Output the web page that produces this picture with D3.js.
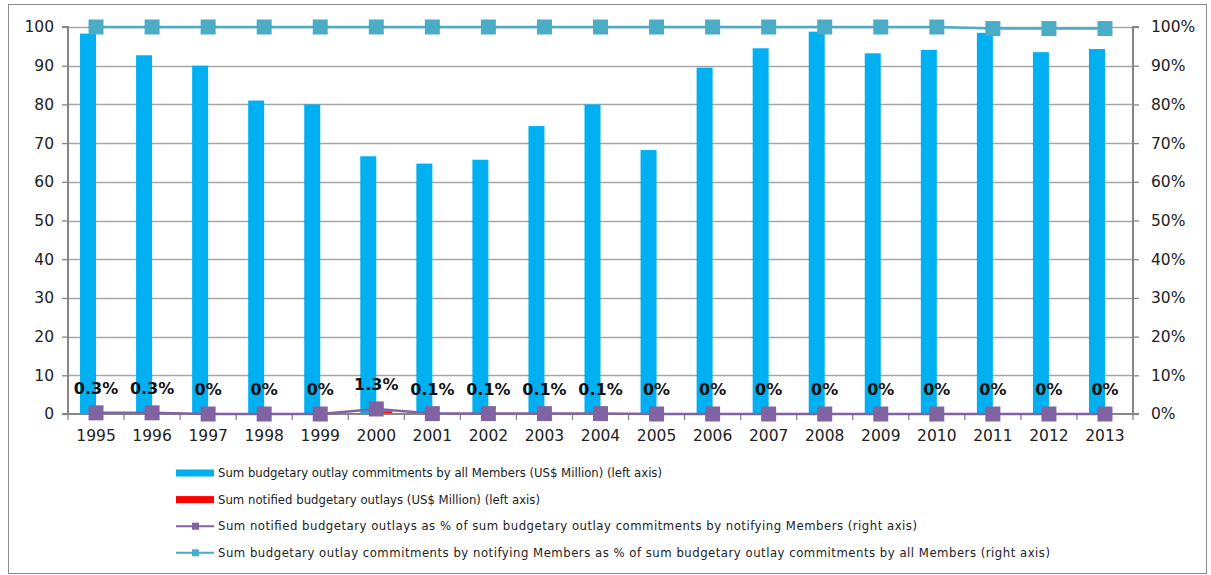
<!DOCTYPE html>
<html>
<head>
<meta charset="utf-8">
<script src="https://cdn.jsdelivr.net/npm/d3@7"></script>
<style>
  body { margin: 0; background: #fff; }
  svg { display: block; }
</style>
</head>
<body>
<svg id="chart" width="1211" height="575"></svg>
<script>
// Years on the x axis
var years = ['1995','1996','1997','1998','1999','2000','2001','2002','2003','2004',
             '2005','2006','2007','2008','2009','2010','2011','2012','2013'];

// Left axis, US$ million
var allCommitments = [98.3, 92.7, 90.0, 81.0, 80.0, 66.6, 64.7, 65.7, 74.4, 80.0,
                      68.2, 89.5, 94.5, 98.8, 93.2, 94.1, 98.5, 93.5, 94.3];
var notifiedOutlays = [0.3, 0.28, 0, 0, 0, 0.7, 0.06, 0.07, 0.07, 0.08,
                       0, 0, 0, 0, 0, 0, 0, 0, 0];

// Right axis, percent
var notifiedPct = [0.3, 0.3, 0, 0, 0, 1.3, 0.1, 0.1, 0.1, 0.1,
                   0, 0, 0, 0, 0, 0, 0, 0, 0];
var notifyingPct = [100, 100, 100, 100, 100, 100, 100, 100, 100, 100,
                    100, 100, 100, 100, 100, 100, 99.6, 99.6, 99.6];
var pctLabels = ['0.3%','0.3%','0%','0%','0%','1.3%','0.1%','0.1%','0.1%','0.1%',
                 '0%','0%','0%','0%','0%','0%','0%','0%','0%'];

var legendLabels = [
  'Sum budgetary outlay commitments by all Members (US$ Million) (left axis)',
  'Sum notified budgetary outlays (US$ Million) (left axis)',
  'Sum notified budgetary outlays as % of sum budgetary outlay commitments by notifying Members (right axis)',
  'Sum budgetary outlay commitments by notifying Members as % of sum budgetary outlay commitments by all Members (right axis)'
];

var blue = '#00b0f0', red = '#ff0000', purple = '#8064a2', teal = '#4bacc6';
var gridColor = '#a6a6a6', axisColor = '#868686';

var svg = d3.select('#chart');
var plotLeft = 68, plotRight = 1133, plotTop = 27, plotBottom = 414;

// Outer frame
svg.append('rect')
  .attr('x', 8.5).attr('y', 4.5)
  .attr('width', 1198).attr('height', 569)
  .attr('fill', 'none').attr('stroke', '#8c8c8c');

var x = d3.scaleBand().domain(years).range([plotLeft, plotRight]);
var yL = d3.scaleLinear().domain([0, 100]).range([plotBottom, plotTop]);
var yR = d3.scaleLinear().domain([0, 100]).range([plotBottom, plotTop]);
var barW = 16;

// Gridlines
svg.append('g')
  .selectAll('line')
  .data(yL.ticks(10).filter(function(d){ return d > 0; }))
  .join('line')
    .attr('x1', plotLeft).attr('x2', plotRight)
    .attr('y1', function(d){ return Math.round(yL(d)) + 0.5; })
    .attr('y2', function(d){ return Math.round(yL(d)) + 0.5; })
    .attr('stroke', gridColor).attr('stroke-width', 1.3);

// Bars
svg.append('g')
  .selectAll('rect')
  .data(allCommitments)
  .join('rect')
    .attr('x', function(d, i){ return x(years[i]) + x.bandwidth() / 2 - barW; })
    .attr('y', function(d){ return yL(d); })
    .attr('width', barW)
    .attr('height', function(d){ return plotBottom - yL(d); })
    .attr('fill', blue);

svg.append('g')
  .selectAll('rect')
  .data(notifiedOutlays)
  .join('rect')
    .attr('x', function(d, i){ return x(years[i]) + x.bandwidth() / 2; })
    .attr('y', function(d){ return yL(d); })
    .attr('width', barW)
    .attr('height', function(d){ return plotBottom - yL(d); })
    .attr('fill', red);

// Axes
var leftAxis = d3.axisLeft(yL).ticks(10).tickSize(6).tickPadding(8);
var gl = svg.append('g').attr('transform', 'translate(' + plotLeft + ',0)').call(leftAxis);

var rightAxis = d3.axisRight(yR).ticks(10).tickSize(6).tickPadding(12)
  .tickFormat(function(d){ return d + '%'; });
var gr = svg.append('g').attr('transform', 'translate(' + plotRight + ',0)').call(rightAxis);

var xAxis = d3.axisBottom(x).tickSize(0).tickPadding(16);
var gx = svg.append('g').attr('transform', 'translate(0,' + plotBottom + ')').call(xAxis);

// x ticks sit between categories
gx.append('g').selectAll('line')
  .data(years.concat(['end']))
  .join('line')
    .attr('x1', function(d, i){ return plotLeft + i * x.bandwidth(); })
    .attr('x2', function(d, i){ return plotLeft + i * x.bandwidth(); })
    .attr('y1', 0).attr('y2', 6)
    .attr('stroke', axisColor).attr('stroke-width', 1.3);

[gl, gr, gx].forEach(function(g){
  g.select('.domain').attr('stroke', axisColor).attr('stroke-width', 2);
  g.selectAll('.tick line').attr('stroke', axisColor).attr('stroke-width', 1.3);
  g.selectAll('.tick text')
    .attr('font-size', 15.5).attr('fill', '#222')
    .style('font-family', '"DejaVu Sans", sans-serif');
});
gx.select('.domain').attr('d', 'M' + plotLeft + ',0H' + plotRight);
gl.select('.domain').attr('d', 'M-6,' + plotBottom + 'H0V' + plotTop + 'H-6');
gr.select('.domain').attr('d', 'M6,' + plotBottom + 'H0V' + plotTop + 'H6');

// Lines
function cx(i){ return x(years[i]) + x.bandwidth() / 2; }

var line = d3.line()
  .x(function(d, i){ return cx(i); })
  .y(function(d){ return yR(d); });

svg.append('path').datum(notifyingPct)
  .attr('d', line).attr('fill', 'none')
  .attr('stroke', teal).attr('stroke-width', 2.5);
svg.append('g').selectAll('rect')
  .data(notifyingPct)
  .join('rect')
    .attr('x', function(d, i){ return cx(i) - 7.5; })
    .attr('y', function(d){ return yR(d) - 7.5; })
    .attr('width', 15).attr('height', 15)
    .attr('fill', teal);

svg.append('path').datum(notifiedPct)
  .attr('d', line).attr('fill', 'none')
  .attr('stroke', purple).attr('stroke-width', 2.5);
svg.append('g').selectAll('rect')
  .data(notifiedPct)
  .join('rect')
    .attr('x', function(d, i){ return cx(i) - 7.5; })
    .attr('y', function(d){ return yR(d) - 7.5; })
    .attr('width', 15).attr('height', 15)
    .attr('fill', purple);

// Data labels
svg.append('g').selectAll('text')
  .data(notifiedPct)
  .join('text')
    .attr('x', function(d, i){ return cx(i); })
    .attr('y', function(d){ return yR(d) - 19; })
    .attr('text-anchor', 'middle')
    .attr('font-family', '"DejaVu Sans", sans-serif')
    .attr('font-weight', 'bold')
    .attr('font-size', 16)
    .attr('fill', '#111')
    .text(function(d, i){ return pctLabels[i]; });

// Legend (the longer entries run wider in the original, so stretch the spacing)
var legendTextWidths = [444, 322, 699, 832];
var legend = svg.append('g');
var rows = legend.selectAll('g')
  .data(legendLabels)
  .join('g')
    .attr('transform', function(d, i){ return 'translate(176,' + (473 + i * 26.6) + ')'; });

rows.each(function(d, i){
  var g = d3.select(this);
  if (i < 2) {
    g.append('rect').attr('x', 0).attr('y', -3.5).attr('width', 38).attr('height', 7)
      .attr('fill', i === 0 ? blue : red);
  } else {
    var c = i === 2 ? purple : teal;
    g.append('line').attr('x1', 0).attr('x2', 38).attr('y1', 0).attr('y2', 0)
      .attr('stroke', c).attr('stroke-width', 2);
    g.append('rect').attr('x', 16).attr('y', -3.5).attr('width', 7).attr('height', 7).attr('fill', c);
  }
  g.append('text')
    .attr('x', 42).attr('y', 0).attr('dy', '0.35em')
    .attr('font-family', '"DejaVu Sans", sans-serif')
    .attr('font-size', 11.7)
    .attr('fill', '#222')
    .attr('textLength', legendTextWidths[i])
    .attr('lengthAdjust', 'spacing')
    .text(d);
});
</script>
</body>
</html>
